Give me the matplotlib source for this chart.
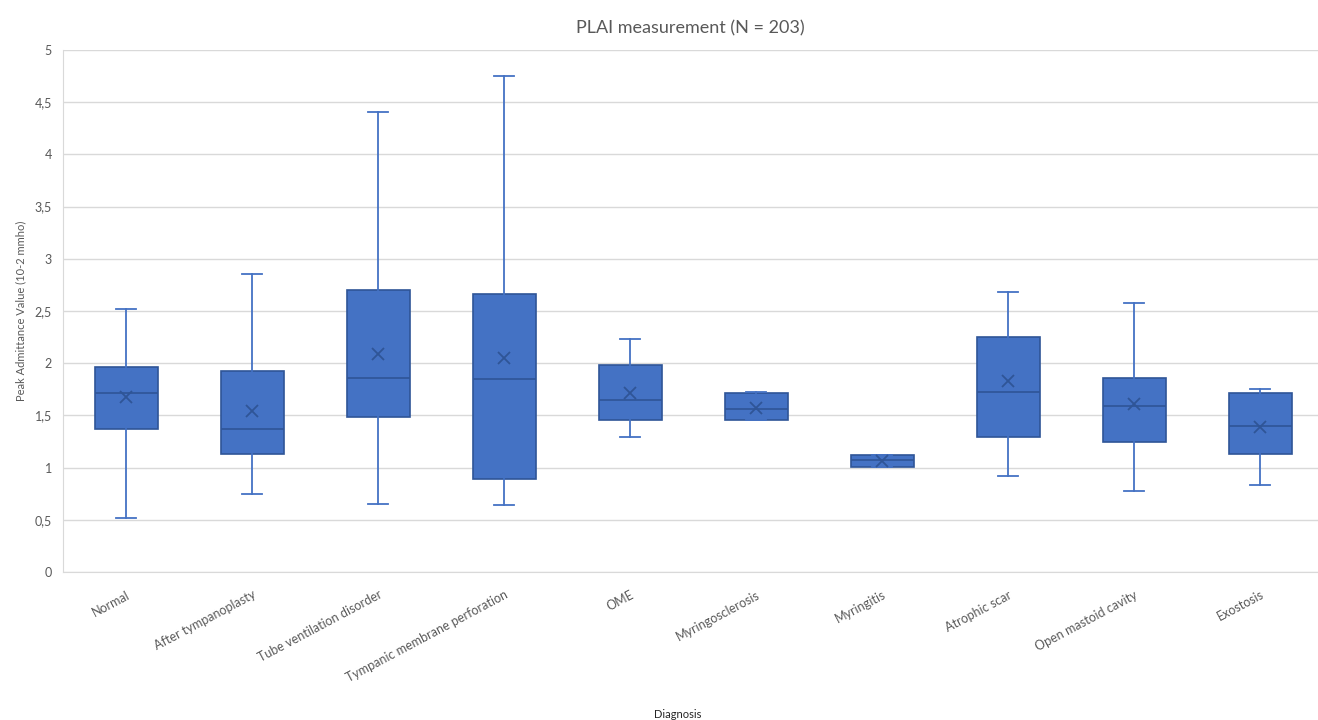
import matplotlib.pyplot as plt
from matplotlib.ticker import FuncFormatter

plt.rcParams['font.family'] = ['Lato', 'DejaVu Sans']

diagnoses = ['Normal', 'After tympanoplasty', 'Tube ventilation disorder',
             'Tympanic membrane perforation', 'OME', 'Myringosclerosis',
             'Myringitis', 'Atrophic scar', 'Open mastoid cavity', 'Exostosis']
whisker_low = [0.52, 0.75, 0.65, 0.64, 1.29, 1.46, 1.01, 0.92, 0.78, 0.83]
q1 = [1.37, 1.13, 1.48, 0.89, 1.46, 1.46, 1.01, 1.29, 1.25, 1.13]
median = [1.71, 1.37, 1.86, 1.85, 1.65, 1.56, 1.07, 1.72, 1.59, 1.40]
q3 = [1.96, 1.93, 2.70, 2.66, 1.98, 1.71, 1.12, 2.25, 1.86, 1.71]
whisker_high = [2.52, 2.85, 4.41, 4.75, 2.23, 1.72, 1.12, 2.68, 2.58, 1.75]
mean = [1.68, 1.54, 2.09, 2.05, 1.71, 1.57, 1.06, 1.83, 1.61, 1.39]
yticks = [0, 0.5, 1, 1.5, 2, 2.5, 3, 3.5, 4, 4.5, 5]

stats = []
for i, name in enumerate(diagnoses):
    stats.append({'label': name, 'whislo': whisker_low[i], 'q1': q1[i],
                  'med': median[i], 'q3': q3[i], 'whishi': whisker_high[i],
                  'mean': mean[i], 'fliers': []})

fill = '#4472C4'
edge = '#2F5597'
grey = '#595959'

fig = plt.figure(figsize=(13.18, 7.2), dpi=100)
ax = fig.add_axes([63 / 1318, 148 / 720, 1 - 63 / 1318, 522 / 720])

ax.bxp(stats, positions=range(len(diagnoses)), widths=0.5, patch_artist=True,
       showmeans=True,
       boxprops=dict(facecolor=fill, edgecolor=edge, linewidth=1.2),
       medianprops=dict(color=edge, linewidth=1.2),
       whiskerprops=dict(color=fill, linewidth=1.3),
       capprops=dict(color=fill, linewidth=1.3),
       capwidths=0.16,
       meanprops=dict(marker='x', markeredgecolor=edge, markersize=8,
                      markeredgewidth=1.3))

ax.set_xlim(-0.5, -0.5 + (1318 - 63) / 126)
ax.set_ylim(0, 5)
ax.set_yticks(yticks)
ax.yaxis.set_major_formatter(FuncFormatter(lambda v, p: f'{v:g}'.replace('.', ',')))
ax.grid(axis='y', color='#d9d9d9', linewidth=1)
ax.set_axisbelow(True)

for s in ['top', 'right']:
    ax.spines[s].set_visible(False)
for s in ['left', 'bottom']:
    ax.spines[s].set_color('#d9d9d9')
ax.tick_params(axis='both', length=0, colors=grey, labelsize=9)
ax.tick_params(axis='y', pad=8)
ax.tick_params(axis='x', pad=12)

ax.set_xticks(range(len(diagnoses)))
ax.set_xticklabels(diagnoses, rotation=28, ha='right', rotation_mode='anchor')

ax.set_title('PLAI measurement (N = 203)', color=grey, fontsize=13, pad=12)
ax.set_ylabel('Peak Admittance Value (10-2 mmho)', color=grey, fontsize=8,
              labelpad=6)
fig.text(0.5 + 63 / 1318 / 2 - 0.01, 0.0, 'Diagnosis', ha='center',
         va='bottom', fontsize=8, color='#262626')

fig.savefig('out.png', dpi=100)
